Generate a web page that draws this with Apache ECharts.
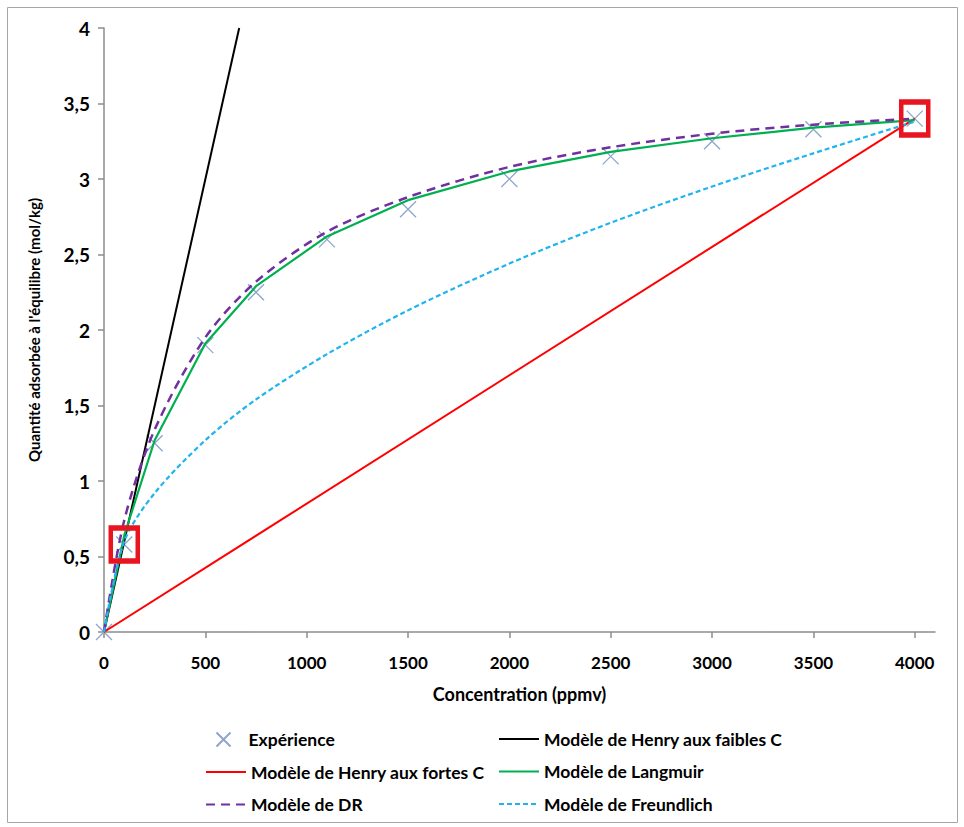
<!DOCTYPE html>
<html>
<head>
<meta charset="utf-8">
<script src="https://cdn.jsdelivr.net/npm/echarts@6/dist/echarts.min.js"></script>
<style>
  html, body { margin: 0; padding: 0; background: #fff; }
  #chart { width: 964px; height: 827px; }
</style>
</head>
<body>
<div id="chart"></div>
<script>
(function() {
  var font = 'Lato, "Open Sans", sans-serif';

  // concentrations (ppmv) used by the measured points and the fitted models
  var conc = [0, 100, 250, 500, 750, 1100, 1500, 2000, 2500, 3000, 3500, 4000];
  var experience = [0, 0.58, 1.25, 1.90, 2.25, 2.60, 2.80, 3.00, 3.15, 3.25, 3.33, 3.40];
  var langmuir = [0, 0.64, 1.27, 1.91, 2.29, 2.62, 2.86, 3.05, 3.18, 3.27, 3.34, 3.39];
  var dr = [0, 0.74, 1.34, 1.95, 2.32, 2.65, 2.88, 3.08, 3.21, 3.30, 3.36, 3.40];
  var freundlich = [0, 0.60, 0.92, 1.27, 1.54, 1.84, 2.13, 2.44, 2.71, 2.95, 3.17, 3.38];

  // Henry lines: two end points each
  var henryLowC = [0, 667];
  var henryLowQ = [0, 4];
  var henryHighC = [0, 4000];
  var henryHighQ = [0, 3.4];

  // points framed in red
  var highlightC = [100, 4000];
  var highlightQ = [0.58, 3.4];

  var xTicks = [0, 500, 1000, 1500, 2000, 2500, 3000, 3500, 4000];

  function pairs(xs, ys) {
    return xs.map(function(x, i) { return [x, ys[i]]; });
  }

  var names = {
    exp: 'Expérience',
    low: 'Modèle de Henry aux faibles C',
    high: 'Modèle de Henry aux fortes C',
    lang: 'Modèle de Langmuir',
    dr: 'Modèle de DR',
    fr: 'Modèle de Freundlich'
  };

  var cross = 'path://M0,0L10,10M10,0L0,10';
  var axisGray = '#8C8C8C';
  var legendText = { fontFamily: font, fontWeight: 'bold', fontSize: 17.5, color: '#000' };

  function legendBlock(left, top, data, hideSymbol) {
    return {
      orient: 'vertical', left: left, top: top, padding: 0,
      itemWidth: 40, itemHeight: 14, itemGap: 14.5,
      textStyle: legendText,
      itemStyle: hideSymbol ? { opacity: 0 } : {},
      data: data
    };
  }

  var chart = echarts.init(document.getElementById('chart'), null, { renderer: 'svg' });
  chart.setOption({
    animation: false,
    backgroundColor: '#fff',
    graphic: [{
      type: 'rect',
      shape: { x: 7.5, y: 7.5, width: 950, height: 815 },
      style: { fill: 'none', stroke: '#A6A6A6', lineWidth: 1 },
      z: -1
    }],
    grid: { left: 104, right: 29, top: 28, bottom: 195 },
    legend: [
      legendBlock(214, 730, [names.exp], false),
      legendBlock(205, 763, [names.high, names.dr], true),
      legendBlock(498, 730, [names.low, names.lang, names.fr], true)
    ],
    xAxis: {
      type: 'value',
      min: 0,
      max: 4100,
      interval: 500,
      name: 'Concentration (ppmv)',
      nameLocation: 'middle',
      nameGap: 53,
      nameTextStyle: { fontFamily: font, fontWeight: 'bold', fontSize: 18, color: '#000' },
      axisLine: { lineStyle: { color: axisGray, width: 1.5 } },
      axisTick: { show: true, length: 6, customValues: xTicks, lineStyle: { color: axisGray, width: 1.5 } },
      axisLabel: {
        customValues: xTicks,
        margin: 22,
        fontFamily: font, fontWeight: 'bold', fontSize: 17, color: '#000',
        formatter: function(v) { return String(v); }
      },
      splitLine: { show: false }
    },
    yAxis: {
      type: 'value',
      min: 0,
      max: 4,
      interval: 0.5,
      name: "Quantité adsorbée à l'équilibre (mol/kg)",
      nameLocation: 'middle',
      nameGap: 63,
      nameRotate: 90,
      nameTextStyle: { fontFamily: font, fontWeight: 'bold', fontSize: 15, color: '#000' },
      axisLine: { show: true, lineStyle: { color: axisGray, width: 1.5 } },
      axisTick: { show: true, length: 6, lineStyle: { color: axisGray, width: 1.5 } },
      axisLabel: {
        margin: 14,
        fontFamily: font, fontWeight: 'bold', fontSize: 19, color: '#000',
        formatter: function(v) { return String(v).replace('.', ','); }
      },
      splitLine: { show: false }
    },
    series: [
      {
        name: names.exp,
        type: 'scatter',
        data: pairs(conc, experience),
        symbol: cross,
        symbolSize: 16,
        itemStyle: { color: 'none', borderColor: '#8EA5CB', borderWidth: 1.3, opacity: 1 },
        z: 1
      },
      {
        name: names.low,
        type: 'line',
        data: pairs(henryLowC, henryLowQ),
        symbol: 'none',
        lineStyle: { color: '#000', width: 2 },
        itemStyle: { color: '#000' },
        z: 2
      },
      {
        name: names.high,
        type: 'line',
        data: pairs(henryHighC, henryHighQ),
        symbol: 'none',
        lineStyle: { color: '#FF0000', width: 2 },
        itemStyle: { color: '#FF0000' },
        z: 2
      },
      {
        name: names.lang,
        type: 'line',
        data: pairs(conc, langmuir),
        symbol: 'none',
        lineStyle: { color: '#00B050', width: 2.2 },
        itemStyle: { color: '#00B050' },
        z: 3
      },
      {
        name: names.dr,
        type: 'line',
        data: pairs(conc, dr),
        symbol: 'none',
        smooth: 0.3,
        lineStyle: { color: '#7030A0', width: 2.5, type: [9, 6] },
        itemStyle: { color: '#7030A0' },
        z: 3
      },
      {
        name: names.fr,
        type: 'line',
        data: pairs(conc, freundlich),
        symbol: 'none',
        smooth: 0.3,
        lineStyle: { color: '#1FB4F0', width: 2.2, type: [5, 3] },
        itemStyle: { color: '#1FB4F0' },
        z: 3
      },
      {
        name: 'highlight',
        type: 'scatter',
        data: pairs(highlightC, highlightQ),
        symbol: 'rect',
        symbolSize: [27, 33],
        itemStyle: { color: 'none', borderColor: '#E8141F', borderWidth: 5, opacity: 1 },
        silent: true,
        z: 5
      }
    ]
  });
  window.addEventListener('resize', function() { chart.resize(); });
})();
</script>
</body>
</html>
